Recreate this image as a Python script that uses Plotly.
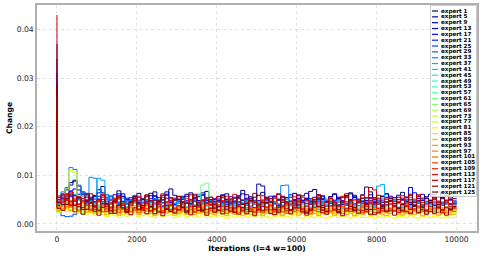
import numpy as np
import plotly.graph_objects as go

iterations = list(range(0, 10001, 100))

experts = [1, 5, 9, 13, 17, 21, 25, 29, 33, 37, 41, 45, 49, 53, 57, 61,
           65, 69, 73, 77, 81, 85, 89, 93, 97, 101, 105, 109, 113, 117, 121, 125]

peaks = [370, 340, 310, 280, 300, 260, 240, 250, 230, 220, 210, 200, 190, 180, 175, 170,
         165, 160, 155, 150, 148, 145, 140, 180, 200, 220, 240, 260, 280, 430, 280, 290]

# values after the start, in units of 1e-4, one row per expert
e1 = [55,62,70,85,90,78,66,60,52,58,71,64,55,48,60,68,57,50,45,56,63,52,47,58,66,54,49,61,72,59,51,46,57,64,53,48,60,67,55,50,45,58,62,51,47,56,69,60,52,48,59,65,54,46,57,61,50,44,55,63,58,49,53,67,71,60,52,47,56,62,51,45,58,64,55,49,60,76,66,54,48,57,62,52,46,59,65,55,50,44,57,61,53,48,60,66,54,49,56,52]
e5 = [50,58,72,80,88,70,62,55,48,56,64,77,60,51,46,55,62,53,47,58,49,44,56,63,52,47,59,66,54,48,43,55,61,50,46,57,64,53,49,45,56,60,50,44,53,58,62,51,47,55,82,78,52,45,57,49,44,54,60,50,46,58,63,52,47,55,50,44,56,61,53,48,58,62,59,51,46,54,60,50,45,57,62,52,47,55,49,44,58,64,53,48,56,61,51,46,54,59,50,47]
e9 = [46,52,60,66,58,53,48,62,55,46,51,59,47,42,50,45,56,41,48,53,44,50,42,47,57,49,44,53,45,40,50,57,47,43,53,48,59,44,50,42,47,54,46,51,43,52,48,45,56,47,41,49,55,46,42,51,57,45,40,48,53,44,50,46,41,52,58,47,43,49,55,45,41,50,56,46,42,48,54,44,49,45,51,57,46,42,50,55,44,40,48,53,46,42,51,56,45,41,49,44]
e13 = [38,45,56,68,72,60,52,45,50,58,47,42,51,56,48,43,39,49,54,46,41,50,45,52,58,47,43,38,48,53,45,50,42,47,55,44,49,41,46,52,48,43,51,56,45,40,49,53,46,42,48,44,51,57,45,41,50,54,47,43,39,48,52,45,41,50,56,46,42,47,53,44,40,49,54,46,43,48,52,45,41,49,55,46,42,50,53,45,40,48,52,44,41,49,54,46,42,48,51,47]
e17 = [47,55,62,58,50,54,60,46,42,51,57,45,40,48,53,62,44,41,50,46,55,43,39,48,52,45,50,59,44,41,47,53,46,42,49,56,43,48,40,46,51,44,41,50,55,45,42,48,53,44,40,47,52,45,41,49,54,44,40,47,52,45,42,49,55,46,41,47,53,44,40,48,54,46,42,49,53,45,41,47,52,44,40,48,54,45,42,49,75,47,43,48,53,45,41,47,52,44,42,45]
e21 = [35,42,50,56,46,40,48,43,37,45,51,39,43,36,47,41,38,45,40,48,35,42,46,38,43,49,37,41,45,39,36,44,48,40,37,43,46,38,42,47,39,36,44,41,38,45,40,43,37,44,48,39,42,36,45,41,38,46,40,43,37,44,49,40,36,43,47,39,42,37,45,40,38,46,41,44,37,43,48,39,42,36,45,40,38,46,41,43,37,44,47,39,42,36,45,41,38,44,40,42]
e25 = [25,17,15,16,20,26,30,35,32,38,33,28,35,27,32,37,30,25,33,28,35,31,26,33,29,36,27,34,30,25,33,35,28,31,26,34,37,27,31,29,35,26,33,30,27,36,31,26,34,28,33,27,30,35,28,32,26,34,29,31,27,33,36,28,30,26,34,31,28,35,29,32,27,33,30,26,34,31,28,35,29,32,27,33,36,28,30,26,34,31,28,33,29,32,27,35,30,28,33,30]
e29 = [42,48,55,63,60,50,45,41,48,43,38,46,41,36,45,40,47,35,42,46,38,44,37,41,48,40,36,45,38,43,47,37,44,40,46,35,41,45,38,43,36,45,40,47,37,41,44,38,46,40,37,43,48,39,42,36,45,41,38,46,40,44,37,43,49,39,42,36,45,40,38,47,41,44,37,43,48,39,42,36,45,40,38,46,41,44,37,43,47,39,42,36,45,40,38,46,41,43,37,41]
e33 = [58,66,75,116,112,80,65,58,96,94,70,55,51,58,49,44,53,47,42,50,46,43,49,44,52,42,48,45,40,50,44,53,46,42,49,61,45,41,48,44,51,43,47,40,48,44,50,42,45,49,43,47,44,52,46,41,79,80,45,42,50,46,43,48,44,48,44,51,45,41,49,54,46,42,50,47,43,52,45,41,48,53,46,42,50,45,41,49,54,46,43,50,47,42,51,45,41,48,53,46]
e37 = [44,50,58,47,51,62,56,49,43,51,94,90,60,49,43,51,45,40,49,44,39,47,41,45,51,42,38,46,41,48,44,40,47,42,39,46,50,41,45,43,44,40,47,42,39,46,41,48,43,40,45,42,47,41,44,39,46,50,42,38,45,41,47,43,39,46,42,48,44,40,47,42,39,45,41,48,43,40,46,42,78,81,45,41,47,43,40,46,42,48,44,39,45,41,47,43,40,46,42,44]
e41 = [40,46,52,45,41,48,43,38,45,40,36,44,39,35,43,38,45,34,40,44,37,42,38,45,39,35,43,38,41,37,44,39,35,43,38,40,45,37,42,39,44,38,35,43,39,37,44,40,38,42,36,41,45,38,34,42,39,44,37,40,36,43,39,35,42,46,38,41,37,44,39,36,43,40,38,45,37,41,39,36,42,38,44,40,36,43,39,45,37,41,38,35,43,40,37,44,39,42,36,40]
e45 = [33,38,44,36,41,35,30,39,34,37,32,28,36,40,33,29,35,31,38,34,27,33,37,30,35,32,28,36,39,31,34,29,35,38,32,28,34,37,31,35,30,27,34,38,32,29,35,31,33,30,36,28,32,37,30,34,29,33,38,31,28,35,32,29,36,33,30,37,31,27,34,38,30,33,29,35,32,28,36,31,34,29,37,32,28,35,31,33,29,36,30,34,28,32,37,31,33,29,35,32]
e49 = [32,37,44,35,40,33,37,31,35,30,39,34,28,36,31,27,35,30,34,38,29,33,36,31,27,35,30,33,37,28,32,36,30,34,29,33,38,28,32,30,36,31,27,35,31,33,28,32,29,30,34,27,31,36,29,33,28,35,30,26,32,37,30,34,28,31,35,29,33,27,36,30,32,28,34,31,29,35,30,33,28,32,36,29,31,27,34,30,33,28,35,31,29,34,30,27,33,36,30,31]
e53 = [34,29,37,42,31,36,27,33,30,35,26,32,29,34,38,28,31,25,33,36,29,27,32,35,28,30,34,26,31,29,33,37,27,30,28,32,35,26,30,33,27,29,34,31,26,30,33,28,31,29,35,27,32,30,26,33,29,36,28,31,27,34,30,25,32,29,35,28,31,27,33,30,26,34,29,32,28,35,30,27,33,29,31,26,34,30,28,35,29,32,27,33,30,26,34,29,31,28,32,30]
e57 = [30,34,38,30,35,28,32,26,30,25,33,28,23,30,26,22,29,25,28,32,24,27,30,25,22,29,25,28,31,23,27,30,25,28,24,27,32,23,26,24,30,25,22,29,25,27,23,26,24,25,29,22,27,31,24,26,23,28,25,30,22,27,24,29,26,23,31,25,28,22,27,30,24,26,23,29,25,27,22,28,31,24,26,23,29,25,28,22,27,30,24,26,23,28,25,29,22,27,25,26]
e61 = [27,31,35,29,33,27,24,30,34,28,25,31,27,23,29,33,26,24,30,28,25,31,27,23,29,32,26,30,24,28,33,25,29,27,23,30,80,84,26,28,24,31,27,25,29,32,26,28,24,27,31,25,28,23,30,26,29,33,25,27,24,30,26,28,32,25,29,23,27,31,26,28,24,30,27,25,29,33,26,28,23,27,31,25,29,26,24,30,28,25,32,27,24,29,26,30,25,28,27,26]
e65 = [35,38,45,36,32,40,35,30,34,29,37,32,27,35,30,26,33,29,32,36,28,31,35,30,26,33,29,32,36,27,31,34,29,32,28,31,36,27,30,28,34,29,26,33,29,31,27,30,28,29,33,27,31,35,28,30,26,33,29,32,27,34,30,26,31,28,35,29,32,27,30,33,26,31,29,34,28,30,27,32,29,26,33,30,28,34,27,31,29,26,32,30,27,33,29,31,28,34,27,30]
e69 = [23,27,32,26,30,24,21,27,31,25,22,28,24,20,26,30,23,21,27,24,20,26,29,23,21,27,25,22,28,24,20,26,29,23,21,27,24,22,28,25,21,26,30,23,20,27,24,22,26,23,28,21,25,29,22,24,20,27,23,26,21,28,24,22,27,20,25,29,23,21,26,24,22,28,23,20,26,29,22,25,21,27,24,22,28,23,20,26,25,22,29,23,21,27,24,26,21,25,23,24]
e73 = [30,33,38,30,34,28,32,26,29,24,31,27,21,28,24,20,27,23,26,30,22,25,28,23,20,27,23,26,29,21,25,28,23,26,22,25,30,21,24,22,28,23,20,27,23,25,21,24,22,23,27,20,24,28,22,25,21,26,23,29,21,25,28,22,24,20,27,23,26,21,24,28,22,25,20,26,23,27,21,24,28,22,25,21,27,23,24,20,26,29,22,25,21,27,23,25,20,26,24,23]
e77 = [32,38,72,110,106,58,42,35,30,34,28,36,31,25,33,28,23,31,27,30,34,25,29,32,27,22,30,26,29,33,24,28,31,26,29,25,28,33,23,27,25,30,26,22,29,26,28,23,27,25,31,24,28,22,27,30,25,29,23,26,28,24,31,26,22,29,25,27,23,30,26,28,24,22,29,26,31,25,27,23,28,25,22,30,26,29,24,27,23,28,31,25,22,29,26,27,24,30,25,26]
e81 = [25,28,32,25,29,23,26,20,23,18,24,20,15,21,17,14,19,16,18,22,15,17,20,16,13,18,15,17,20,13,16,19,15,17,14,16,20,13,15,14,18,15,12,17,14,16,13,15,14,15,18,13,16,12,15,17,14,16,13,19,14,12,16,15,13,17,14,12,15,18,13,16,14,12,15,17,13,14,16,12,15,13,17,14,12,16,15,13,18,14,12,15,17,13,16,14,12,15,13,14]
e85 = [28,32,26,36,30,25,33,28,24,30,22,27,31,25,21,28,24,30,26,22,29,25,21,27,31,24,22,28,25,30,23,27,21,26,29,24,22,28,25,21,27,30,23,26,22,28,24,21,27,25,29,22,26,31,24,21,27,25,30,23,26,22,28,24,31,25,21,27,29,23,26,22,28,25,30,24,21,27,26,23,29,24,22,27,31,25,23,28,22,26,29,24,21,27,25,30,23,26,22,25]
e89 = [36,40,46,37,42,35,39,32,36,30,38,33,27,35,30,25,33,29,32,37,27,31,35,29,25,33,29,32,36,26,31,34,29,32,27,31,36,26,30,27,34,29,25,33,29,31,26,30,28,29,33,26,30,35,27,31,25,32,28,34,26,30,33,27,29,25,32,28,31,26,34,29,27,31,25,30,33,28,26,32,29,25,31,34,27,30,26,33,28,25,31,29,27,34,30,26,32,28,25,29]
e93 = [27,31,36,28,33,26,30,24,27,22,29,25,19,26,22,18,25,21,24,28,19,23,26,21,17,24,21,23,27,18,22,25,20,23,19,22,27,18,21,19,25,20,17,24,20,22,18,21,19,20,24,17,22,26,19,21,17,23,20,25,18,22,26,19,21,17,24,20,23,18,21,25,19,22,17,23,20,24,18,21,25,19,17,22,26,20,18,23,21,19,24,17,22,25,20,18,23,21,19,20]
e97 = [36,42,33,47,39,35,44,31,37,41,29,35,38,32,28,36,40,30,34,27,37,33,29,38,31,35,27,33,39,30,36,28,34,37,31,29,35,40,32,28,34,37,30,33,29,36,31,34,28,32,38,27,33,36,30,25,32,37,29,34,28,35,31,26,33,38,29,32,27,35,30,34,26,31,37,29,33,28,35,30,26,32,37,29,34,28,31,36,30,27,33,38,29,32,26,34,30,35,28,31]
e101 = [42,47,55,44,50,42,47,38,43,35,45,39,32,41,35,30,39,34,38,43,31,36,40,34,29,38,33,37,42,30,35,39,33,37,31,35,41,30,34,31,39,33,29,37,33,35,30,34,32,33,38,29,34,40,31,27,36,32,39,30,34,28,37,33,41,30,35,29,38,32,27,36,33,40,31,29,35,38,30,34,28,33,39,31,36,29,34,40,32,28,35,31,37,30,33,39,29,34,31,32]
e105 = [33,37,43,35,40,29,34,38,27,33,30,25,31,35,28,24,30,33,26,29,23,28,32,26,30,24,27,31,25,22,28,32,26,29,24,27,31,23,28,25,30,26,22,28,31,24,27,25,29,26,32,23,27,21,28,30,25,22,29,26,31,24,27,22,28,25,30,23,26,29,24,21,27,31,25,28,23,26,30,24,22,28,25,31,26,23,29,27,24,30,22,26,28,25,31,23,27,24,29,26]
e109 = [46,50,58,40,53,36,47,41,30,38,48,34,26,44,52,33,42,28,37,46,31,39,50,27,41,35,24,45,49,33,28,42,52,36,25,38,47,30,40,34,45,29,36,51,26,38,33,43,31,24,41,49,30,38,55,29,35,44,27,33,48,30,25,41,34,46,29,37,52,28,36,43,27,31,49,38,24,36,42,30,53,34,28,40,46,33,25,38,50,31,35,44,29,37,51,32,27,43,36,33]
e113 = [54,45,60,38,48,56,34,50,42,30,47,55,36,28,44,52,33,25,39,48,57,32,43,27,50,41,24,45,53,31,38,46,26,49,58,35,29,42,55,37,28,48,57,33,24,46,40,30,51,44,27,36,53,47,25,34,50,39,29,56,45,31,23,42,54,35,28,47,52,30,38,57,43,26,33,49,41,25,44,53,32,27,46,55,36,24,40,51,30,45,58,34,26,43,50,37,29,48,42,39]
e117 = [55,60,48,66,58,40,52,63,45,36,50,61,42,33,48,57,39,30,46,55,41,34,58,47,31,44,62,38,29,50,56,35,43,60,37,28,49,54,40,32,57,46,30,42,61,36,27,51,48,34,39,58,44,29,53,62,35,31,47,41,33,55,49,28,43,60,38,26,52,45,30,46,57,37,29,50,59,40,75,70,41,32,54,47,28,44,58,36,30,51,60,39,27,45,53,34,29,48,56,42]
e121 = [32,28,40,47,25,36,20,30,44,26,18,34,41,27,22,38,46,24,19,33,42,29,21,35,48,26,17,31,39,23,30,45,27,19,36,43,25,18,32,40,28,21,37,47,24,20,34,42,26,17,30,44,35,22,19,38,49,27,21,33,41,25,18,29,46,36,23,20,37,43,26,17,31,48,34,22,28,42,30,19,24,39,45,27,18,33,40,25,21,36,47,29,20,26,38,44,23,18,31,35]
e125 = [44,40,52,60,38,55,30,48,62,35,27,50,41,22,46,58,33,25,44,52,29,38,60,36,21,47,55,30,26,49,57,34,23,42,61,39,28,51,45,24,36,58,47,26,33,54,40,21,48,63,35,27,44,52,30,24,56,43,29,37,60,45,22,31,50,58,34,26,47,39,23,55,62,36,28,45,53,30,20,41,59,37,25,48,54,32,27,46,61,38,24,35,52,44,22,40,57,33,29,36]

rows = [e1, e5, e9, e13, e17, e21, e25, e29, e33, e37, e41, e45, e49, e53, e57, e61,
        e65, e69, e73, e77, e81, e85, e89, e93, e97, e101, e105, e109, e113, e117, e121, e125]

y_ticks = [0.00, 0.01, 0.02, 0.03, 0.04]
y_tick_text = ["0.00", "0.01", "0.02", "0.03", "0.04"]
x_ticks = [0, 2000, 4000, 6000, 8000, 10000]


def jet(t):
    r = np.interp(t, [0, 0.35, 0.66, 0.89, 1], [0, 0, 1, 1, 0.5])
    g = np.interp(t, [0, 0.125, 0.375, 0.64, 0.91, 1], [0, 0, 1, 1, 0, 0])
    b = np.interp(t, [0, 0.11, 0.34, 0.65, 1], [0.5, 1, 1, 0, 0])
    return "rgb(%d,%d,%d)" % (round(r * 255), round(g * 255), round(b * 255))


n = len(experts)
colors = [jet(i / (n - 1)) for i in range(n)]

fig = go.Figure()
for i, e in enumerate(experts):
    vals = [peaks[i]] + rows[i]
    vals = [v / 10000 for v in vals]
    fig.add_trace(go.Scatter(
        x=iterations[:len(vals)], y=vals, mode="lines",
        line=dict(color=colors[i], width=1, shape="vh"),
        name="expert %d" % e, showlegend=False))

W, H = 483, 258
L, R, T, B = 37, 6, 5, 27
pw, ph = W - L - R, H - T - B


def px(xp):
    return (xp - L) / pw


def py(yp):
    return (H - B - yp) / ph


shapes = [dict(type="rect", xref="paper", yref="paper",
               x0=px(430.5), x1=px(476.5), y0=py(196.5), y1=py(5.5),
               fillcolor="rgba(255,255,255,0.8)", line=dict(color="#cccccc", width=1),
               layer="above")]
annotations = []
for k, e in enumerate(experts):
    yy = 11 + k * 5.84
    shapes.append(dict(type="line", xref="paper", yref="paper",
                       x0=px(432), x1=px(438), y0=py(yy), y1=py(yy),
                       line=dict(color=colors[k], width=1.2), layer="above"))
    annotations.append(dict(xref="paper", yref="paper", x=px(438.5), y=py(yy),
                            xanchor="left", yanchor="middle", showarrow=False,
                            text="expert %d" % e,
                            font=dict(family="DejaVu Sans", size=5.6, color="black", weight="bold")))

fig.update_layout(
    width=W, height=H,
    margin=dict(l=L, r=R, t=T, b=B, autoexpand=False),
    paper_bgcolor="white", plot_bgcolor="white",
    font=dict(family="DejaVu Sans", size=7.6, color="#222222"),
    shapes=shapes, annotations=annotations,
    showlegend=False,
)
fig.update_xaxes(range=[-500, 10513], tickvals=x_ticks, ticktext=[str(v) for v in x_ticks],
                 showline=True, mirror=True, linecolor="#b0b0b0", linewidth=1.5,
                 showgrid=True, gridcolor="#e2e2e2", griddash="dot", gridwidth=1,
                 zeroline=False, ticks="", automargin=False,
                 title=dict(text="Iterations (l=4 w=100)", standoff=1,
                            font=dict(family="DejaVu Sans", size=7.6, color="black", weight="bold")))
fig.update_yaxes(range=[-0.00145, 0.04505], tickvals=y_ticks, ticktext=y_tick_text,
                 showline=True, mirror=True, linecolor="#b0b0b0", linewidth=1.5,
                 showgrid=True, gridcolor="#e2e2e2", griddash="dot", gridwidth=1,
                 zeroline=False, ticks="", automargin=False,
                 title=dict(text="Change", standoff=3,
                            font=dict(family="DejaVu Sans", size=7.6, color="black", weight="bold")))

fig.write_html("out.html", config={"displayModeBar": False},
               post_script="document.body.style.margin='0px';")
